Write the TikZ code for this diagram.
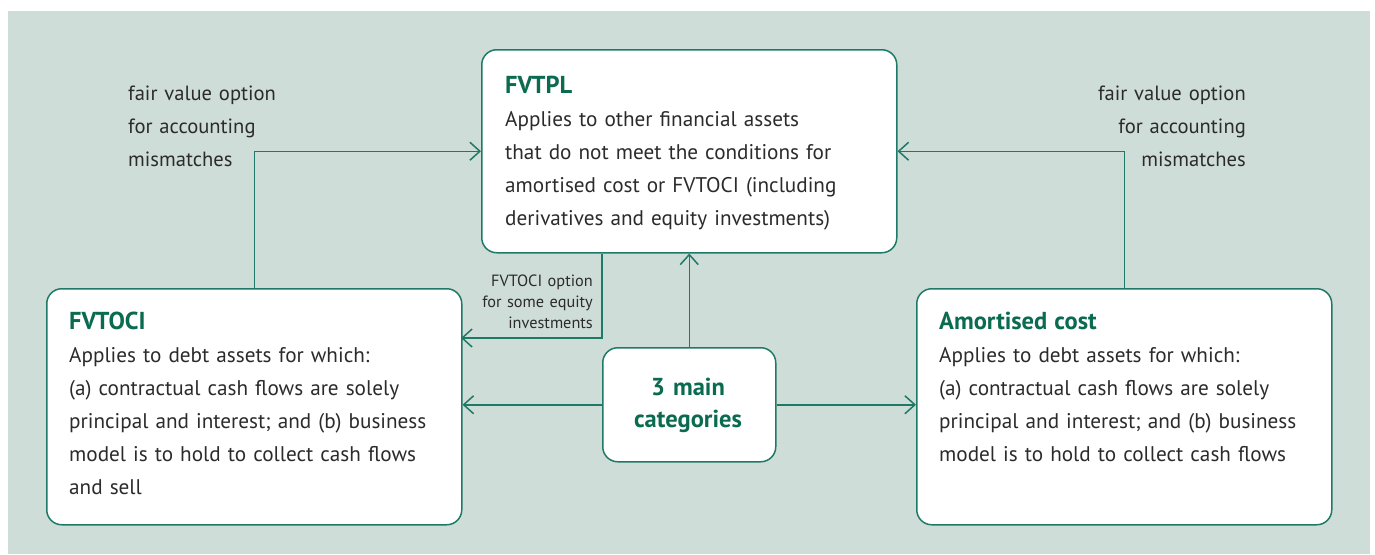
\documentclass[tikz,border=0pt]{standalone}
\usepackage{fontspec}
\setmainfont{PT Sans}
\usetikzlibrary{arrows.meta}
\definecolor{bg}{HTML}{CFDDD8}
\definecolor{ln}{HTML}{1E7A66}
\definecolor{ttl}{HTML}{0A6B50}
\definecolor{txt}{HTML}{2B2B2B}
\newcommand{\ttlf}{\fontsize{24.5}{33}\selectfont\bfseries\color{ttl}}
\begin{document}
\begin{tikzpicture}[x=1pt,y=-1pt,
  box/.style={draw=ln, line width=1.5pt, fill=white, rounded corners=15pt, inner sep=0pt, anchor=north west},
  body/.style={font=\fontsize{21.2}{33}\selectfont, text=txt, align=left, anchor=base west, inner sep=0pt, text width=#1},
  lbl/.style={font=\fontsize{20.6}{33}\selectfont, text=txt, inner sep=0pt, text width=160pt},
  small/.style={font=\fontsize{16.3}{21}\selectfont, text=txt, inner sep=0pt, text width=140pt, align=right, anchor=base east},
  ttlfont/.style={font=\fontsize{24.5}{32}\selectfont\bfseries, text=ttl},
  conn/.style={draw=ln, line width=1.5pt, -{Straight Barb[length=10pt,width=18pt,line width=1.5pt]}}
]
\useasboundingbox (0,0) rectangle (1375,554);
\fill[bg] (8,11) rectangle (1370,554);

% boxes
\node[box, minimum width=415pt, minimum height=203pt] (fvtpl) at (481,49) {};
\node[box, minimum width=415pt, minimum height=236pt] (fvtoci) at (46,288) {};
\node[box, minimum width=415pt, minimum height=236pt] (amort) at (916,288) {};
\node[box, minimum width=173pt, minimum height=114pt] (cat) at (602,347) {};

% texts
\node[body=380pt] (fvtplT) at (505,93) {{\ttlf FVTPL}\\
Applies to other financial assets\\
that do not meet the conditions for\\
amortised cost or FVTOCI (including\\
derivatives and equity investments)};
\node[body=380pt] (fvtociT) at (69,329) {{\ttlf FVTOCI}\\
Applies to debt assets for which:\\
(a) contractual cash flows are solely\\
principal and interest; and (b) business\\
model is to hold to collect cash flows\\
and sell};
\node[body=380pt] (amortT) at (939,329) {{\ttlf Amortised cost}\\
Applies to debt assets for which:\\
(a) contractual cash flows are solely\\
principal and interest; and (b) business\\
model is to hold to collect cash flows};
\node[ttlfont, align=center, anchor=base, inner sep=0pt, text width=160pt] (catT) at (688,395) {3 main\\categories};

\node[lbl, align=left, anchor=base west] (fvoL) at (128,100) {fair value option\\for accounting\\mismatches};
\node[lbl, align=right, anchor=base east] (fvoR) at (1246,100) {fair value option\\for accounting\\mismatches};
\node[small] (optT) at (593,286) {FVTOCI option\\for some equity\\investments};

% connectors
\coordinate (optEnd) at (461,338);
\draw[conn] (fvtoci.north) |- (fvtpl.west);
\draw[conn] (amort.north) |- (fvtpl.east);
\draw[conn] (fvtpl.south -| cat.west) |- (optEnd);
\draw[conn] (cat.north) -- (cat.north |- fvtpl.south);
\draw[conn] (cat.west) -- (cat.west -| fvtoci.east);
\draw[conn] (cat.east) -- (cat.east -| amort.west);
\end{tikzpicture}
\end{document}
